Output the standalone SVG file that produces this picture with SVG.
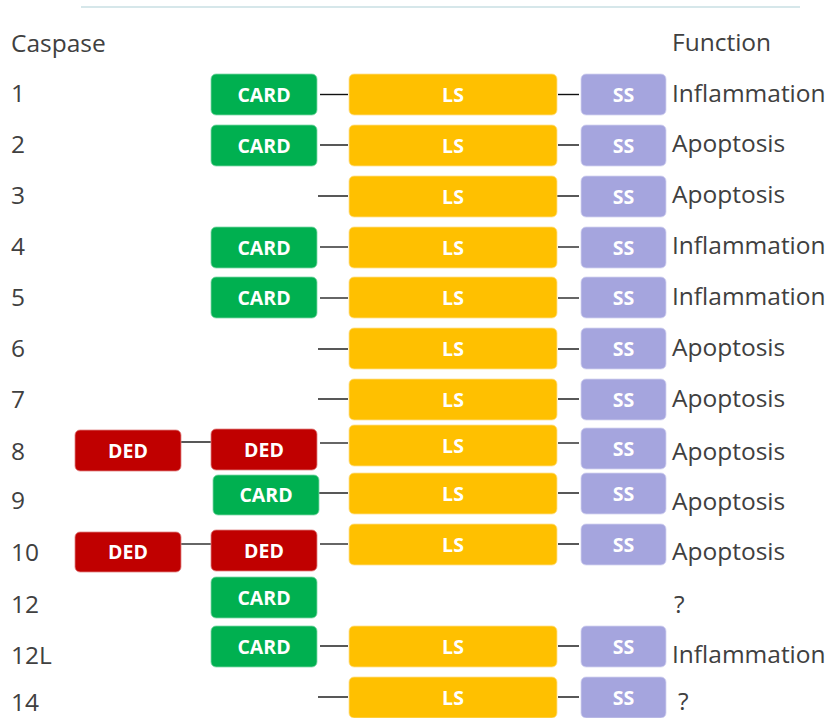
<svg xmlns="http://www.w3.org/2000/svg" width="830" height="718" viewBox="0 0 830 718">
<style>
.t{font-family:"Open Sans","Noto Sans",sans-serif;font-size:24.5px;fill:#404040}
.b{font-family:"Open Sans","Noto Sans",sans-serif;font-size:19.5px;font-weight:700;fill:#fff;text-anchor:middle}
.card{fill:#00b050;stroke:#7fd8a7;stroke-width:0.8}
.ls{fill:#ffc000;stroke:#ffe08a;stroke-width:0.8}
.ss{fill:#a5a5de;stroke:#d3d3f0;stroke-width:0.8}
.ded{fill:#c00000;stroke:#e08080;stroke-width:0.8}
.c{stroke:#111;stroke-width:1.4}
.g{stroke:#555;stroke-width:1.8}
</style>
<rect width="830" height="718" fill="#fff"/>
<line x1="81" y1="7" x2="800" y2="7" stroke="#c8dfe3" stroke-width="1.3"/>

<g id="labels">
<text class="t" x="11" y="52">Caspase</text>
<text class="t" x="672" y="51">Function</text>
<text class="t" x="11" y="102">1</text>
<text class="t" x="11" y="153">2</text>
<text class="t" x="11" y="204">3</text>
<text class="t" x="11" y="255">4</text>
<text class="t" x="11" y="306">5</text>
<text class="t" x="11" y="357">6</text>
<text class="t" x="11" y="408">7</text>
<text class="t" x="11" y="460">8</text>
<text class="t" x="11" y="509">9</text>
<text class="t" x="11" y="561">10</text>
<text class="t" x="11" y="613">12</text>
<text class="t" x="11" y="664">12L</text>
<text class="t" x="11" y="711">14</text>
<text class="t" x="672" y="102">Inflammation</text>
<text class="t" x="672" y="152">Apoptosis</text>
<text class="t" x="672" y="203">Apoptosis</text>
<text class="t" x="672" y="254">Inflammation</text>
<text class="t" x="672" y="305">Inflammation</text>
<text class="t" x="672" y="356">Apoptosis</text>
<text class="t" x="672" y="407">Apoptosis</text>
<text class="t" x="672" y="460">Apoptosis</text>
<text class="t" x="672" y="510">Apoptosis</text>
<text class="t" x="672" y="560">Apoptosis</text>
<text class="t" x="674" y="613">?</text>
<text class="t" x="672" y="663">Inflammation</text>
<text class="t" x="678" y="710">?</text>
</g>

<g id="connectors">
<line class="c" x1="320" y1="94.5" x2="348" y2="94.5"/>
<line class="c" x1="558" y1="94.5" x2="579" y2="94.5"/>
<line class="c" x1="320" y1="145" x2="348" y2="145"/>
<line class="c" x1="558" y1="145" x2="579" y2="145"/>
<line class="c" x1="318" y1="196" x2="348" y2="196"/>
<line class="c" x1="557" y1="196" x2="579" y2="196"/>
<line class="g" x1="320" y1="247" x2="348" y2="247"/>
<line class="g" x1="558" y1="247" x2="579" y2="247"/>
<line class="g" x1="320" y1="298" x2="348" y2="298"/>
<line class="g" x1="558" y1="298" x2="579" y2="298"/>
<line class="c" x1="318" y1="349" x2="348" y2="349"/>
<line class="c" x1="558" y1="349" x2="579" y2="349"/>
<line class="c" x1="318" y1="399" x2="348" y2="399"/>
<line class="c" x1="558" y1="399" x2="579" y2="399"/>
<line class="c" x1="181" y1="442" x2="211" y2="442"/>
<line class="g" x1="320" y1="443" x2="348" y2="443"/>
<line class="g" x1="558" y1="443" x2="579" y2="443"/>
<line class="c" x1="319" y1="493" x2="348" y2="493"/>
<line class="c" x1="558" y1="493" x2="579" y2="493"/>
<line class="g" x1="181" y1="544" x2="211" y2="544"/>
<line class="g" x1="320" y1="544" x2="348" y2="544"/>
<line class="c" x1="558" y1="544" x2="579" y2="544"/>
<line class="c" x1="320" y1="646" x2="348" y2="646"/>
<line class="c" x1="558" y1="646" x2="579" y2="646"/>
<line class="c" x1="318" y1="697" x2="348" y2="697"/>
<line class="c" x1="558" y1="697" x2="579" y2="697"/>
</g>

<g id="r1-card"><rect class="card" x="211" y="74" width="106" height="41" rx="5"/><text class="b" x="264" y="101.5">CARD</text></g>
<g id="r1-ls"><rect class="ls" x="349" y="74" width="208" height="41" rx="5"/><text class="b" x="453" y="101.5">LS</text></g>
<g id="r1-ss"><rect class="ss" x="581" y="74" width="85" height="41" rx="5"/><text class="b" x="623.5" y="101.5">SS</text></g>

<g id="r2-card"><rect class="card" x="211" y="125" width="106" height="41" rx="5"/><text class="b" x="264" y="152.5">CARD</text></g>
<g id="r2-ls"><rect class="ls" x="349" y="125" width="208" height="41" rx="5"/><text class="b" x="453" y="152.5">LS</text></g>
<g id="r2-ss"><rect class="ss" x="581" y="125" width="85" height="41" rx="5"/><text class="b" x="623.5" y="152.5">SS</text></g>

<g id="r3-ls"><rect class="ls" x="349" y="176" width="208" height="41" rx="5"/><text class="b" x="453" y="203.5">LS</text></g>
<g id="r3-ss"><rect class="ss" x="581" y="176" width="85" height="41" rx="5"/><text class="b" x="623.5" y="203.5">SS</text></g>

<g id="r4-card"><rect class="card" x="211" y="227" width="106" height="41" rx="5"/><text class="b" x="264" y="254.5">CARD</text></g>
<g id="r4-ls"><rect class="ls" x="349" y="227" width="208" height="41" rx="5"/><text class="b" x="453" y="254.5">LS</text></g>
<g id="r4-ss"><rect class="ss" x="581" y="227" width="85" height="41" rx="5"/><text class="b" x="623.5" y="254.5">SS</text></g>

<g id="r5-card"><rect class="card" x="211" y="277" width="106" height="41" rx="5"/><text class="b" x="264" y="304.5">CARD</text></g>
<g id="r5-ls"><rect class="ls" x="349" y="277" width="208" height="41" rx="5"/><text class="b" x="453" y="304.5">LS</text></g>
<g id="r5-ss"><rect class="ss" x="581" y="277" width="85" height="41" rx="5"/><text class="b" x="623.5" y="304.5">SS</text></g>

<g id="r6-ls"><rect class="ls" x="349" y="328" width="208" height="41" rx="5"/><text class="b" x="453" y="355.5">LS</text></g>
<g id="r6-ss"><rect class="ss" x="581" y="328" width="85" height="41" rx="5"/><text class="b" x="623.5" y="355.5">SS</text></g>

<g id="r7-ls"><rect class="ls" x="349" y="379" width="208" height="41" rx="5"/><text class="b" x="453" y="406.5">LS</text></g>
<g id="r7-ss"><rect class="ss" x="581" y="379" width="85" height="41" rx="5"/><text class="b" x="623.5" y="406.5">SS</text></g>

<g id="r8-ded1"><rect class="ded" x="75" y="430" width="106" height="41" rx="5"/><text class="b" x="128" y="457.5">DED</text></g>
<g id="r8-ded2"><rect class="ded" x="211" y="429" width="106" height="41" rx="5"/><text class="b" x="264" y="456.5">DED</text></g>
<g id="r8-ls"><rect class="ls" x="349" y="425" width="208" height="41" rx="5"/><text class="b" x="453" y="452.5">LS</text></g>
<g id="r8-ss"><rect class="ss" x="581" y="428" width="85" height="41" rx="5"/><text class="b" x="623.5" y="455.5">SS</text></g>

<g id="r9-card"><rect class="card" x="213" y="475" width="106" height="40" rx="5"/><text class="b" x="266" y="502">CARD</text></g>
<g id="r9-ls"><rect class="ls" x="349" y="473" width="208" height="41" rx="5"/><text class="b" x="453" y="500.5">LS</text></g>
<g id="r9-ss"><rect class="ss" x="581" y="473" width="85" height="41" rx="5"/><text class="b" x="623.5" y="500.5">SS</text></g>

<g id="r10-ded1"><rect class="ded" x="75" y="532" width="106" height="40" rx="5"/><text class="b" x="128" y="559">DED</text></g>
<g id="r10-ded2"><rect class="ded" x="211" y="530" width="106" height="41" rx="5"/><text class="b" x="264" y="557.5">DED</text></g>
<g id="r10-ls"><rect class="ls" x="349" y="524" width="208" height="41" rx="5"/><text class="b" x="453" y="551.5">LS</text></g>
<g id="r10-ss"><rect class="ss" x="581" y="524" width="85" height="41" rx="5"/><text class="b" x="623.5" y="551.5">SS</text></g>

<g id="r12-card"><rect class="card" x="211" y="577" width="106" height="41" rx="5"/><text class="b" x="264" y="604.5">CARD</text></g>

<g id="r12L-card"><rect class="card" x="211" y="626" width="106" height="41" rx="5"/><text class="b" x="264" y="653.5">CARD</text></g>
<g id="r12L-ls"><rect class="ls" x="349" y="626" width="208" height="41" rx="5"/><text class="b" x="453" y="653.5">LS</text></g>
<g id="r12L-ss"><rect class="ss" x="581" y="626" width="85" height="41" rx="5"/><text class="b" x="623.5" y="653.5">SS</text></g>

<g id="r14-ls"><rect class="ls" x="349" y="677" width="208" height="41" rx="5"/><text class="b" x="453" y="704.5">LS</text></g>
<g id="r14-ss"><rect class="ss" x="581" y="677" width="85" height="41" rx="5"/><text class="b" x="623.5" y="704.5">SS</text></g>
</svg>
